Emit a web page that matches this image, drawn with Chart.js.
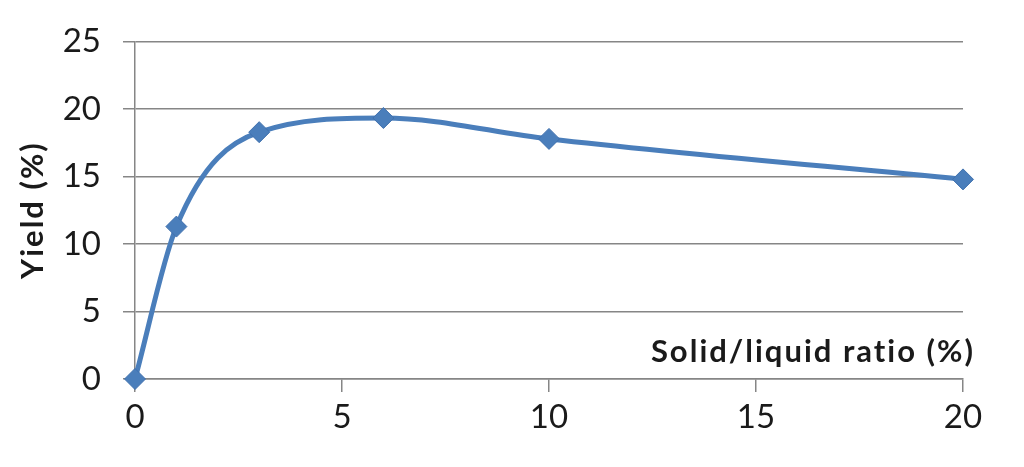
<!DOCTYPE html>
<html>
<head>
<meta charset="utf-8">
<script src="https://cdn.jsdelivr.net/npm/chart.js@4.4.0/dist/chart.umd.min.js"></script>
<style>
html,body{margin:0;padding:0;background:#fff;}
#wrap{width:1024px;height:467px;position:relative;}
</style>
</head>
<body>
<div id="wrap"><canvas id="c" width="1024" height="467"></canvas></div>
<script>
const ratios = [0, 1, 3, 6, 10, 20];
const yields = [0, 11.3, 18.3, 19.35, 17.8, 14.8];
const xTicks = [0, 5, 10, 15, 20];
const yTicks = [0, 5, 10, 15, 20, 25];
const xTitle = 'Solid/liquid ratio (%)';
const yTitle = 'Yield (%)';

const points = ratios.map((r, i) => ({x: r, y: yields[i]}));
const FONT = 'Lato, "Open Sans", sans-serif';
const GRID = '#868686';

const titles = {
  id: 'titles',
  afterDraw(chart) {
    const ctx = chart.ctx, a = chart.chartArea;
    ctx.save();
    ctx.fillStyle = '#1a1a1a';
    ctx.font = 'bold 31px ' + FONT;
    ctx.letterSpacing = '2px';
    ctx.textAlign = 'right';
    ctx.textBaseline = 'middle';
    ctx.fillText(xTitle, a.right + 12, 352);
    ctx.translate(33, 210);
    ctx.rotate(-Math.PI / 2);
    ctx.textAlign = 'center';
    ctx.fillText(yTitle, 0, 0);
    ctx.restore();
  }
};

new Chart(document.getElementById('c'), {
  type: 'scatter',
  data: {
    datasets: [{
      data: points,
      showLine: true,
      borderColor: '#4a7ebb',
      borderWidth: 5,
      cubicInterpolationMode: 'monotone',
      pointStyle: 'rectRot',
      pointRadius: 10.5,
      pointBackgroundColor: '#4a7ebb',
      pointBorderColor: '#3f70ad',
      pointBorderWidth: 1,
      clip: false
    }]
  },
  plugins: [titles],
  options: {
    responsive: false,
    animation: false,
    layout: {padding: {left: 0, right: 61, top: 40, bottom: 0}},
    plugins: {legend: {display: false}, tooltip: {enabled: false}, title: {display: false}},
    scales: {
      x: {
        type: 'linear',
        min: 0, max: 20,
        afterBuildTicks(s) { s.ticks = xTicks.map(v => ({value: v})); },
        afterFit(s) { s.height = 88; },
        grid: {drawOnChartArea: false, color: GRID, lineWidth: 1.5, tickLength: 13},
        border: {color: GRID, width: 1.5},
        ticks: {font: {family: FONT, size: 33}, color: '#1a1a1a', padding: 6, maxRotation: 0}
      },
      y: {
        min: 0, max: 25,
        afterBuildTicks(s) { s.ticks = yTicks.map(v => ({value: v})); },
        afterFit(s) { s.width = 135; },
        grid: {color: GRID, lineWidth: 1.5, tickLength: 12},
        border: {color: GRID, width: 1.5},
        ticks: {font: {family: FONT, size: 33}, color: '#1a1a1a', padding: 22}
      }
    }
  }
});
</script>
</body>
</html>
